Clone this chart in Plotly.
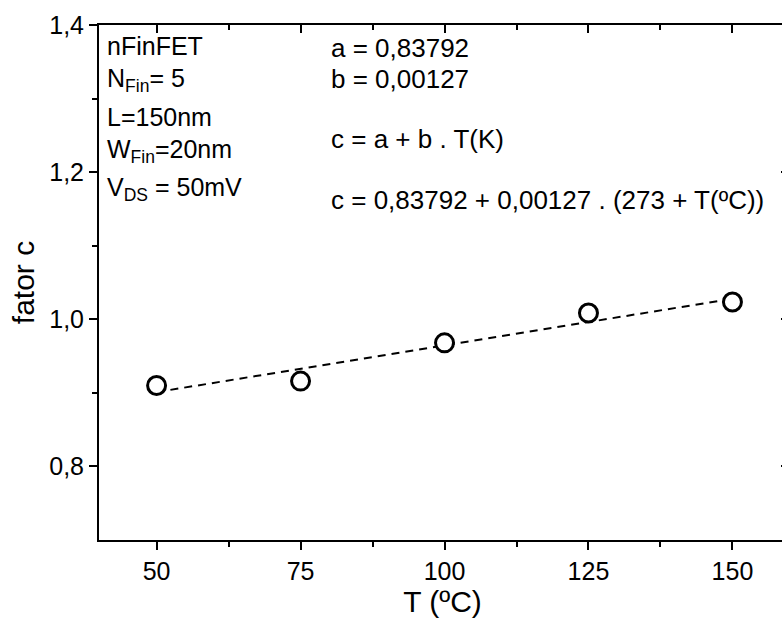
import plotly.graph_objects as go

# Data
temperature_C = [50, 75, 100, 125, 150]
fator_c = [0.910, 0.916, 0.968, 1.0085, 1.0235]

fit_T = [50, 150]
fit_c = [0.901, 1.028]

x_tick_vals = [50, 75, 100, 125, 150]
x_tick_text = ["50", "75", "100", "125", "150"]
x_minor_vals = [62.5, 87.5, 112.5, 137.5]
y_tick_vals = [0.8, 1.0, 1.2, 1.4]
y_tick_text = ["0,8", "1,0", "1,2", "1,4"]
y_minor_vals = [0.9, 1.1, 1.3]

left_labels = ["nFinFET", "N<sub>Fin</sub>= 5", "L=150nm", "W<sub>Fin</sub>=20nm", "V<sub>DS</sub> = 50mV"]
right_labels = ["a = 0,83792", "b = 0,00127", "c = a + b . T(K)", "c = 0,83792 + 0,00127 . (273 + T(ºC))"]

FONT = "Liberation Sans, Arial, Helvetica, sans-serif"
W, H = 786, 619
L_M, R_M, T_M, B_M = 99, 0, 25, 79
plot_h = H - T_M - B_M
X_RANGE = [40, 159.3]

def py(pix):
    return (H - B_M - pix) / plot_h

def px(pix):
    return (pix - L_M) / (W - L_M - R_M)

fig = go.Figure()
fig.add_trace(go.Scatter(x=fit_T, y=fit_c, mode="lines",
                         line=dict(color="black", width=2, dash="8px,6px"),
                         showlegend=False, hoverinfo="skip"))
fig.add_trace(go.Scatter(x=temperature_C, y=fator_c, mode="markers",
                         marker=dict(symbol="circle", size=18, color="white",
                                     line=dict(color="black", width=3)),
                         showlegend=False))

left_y = [46, 80, 117, 151, 189]
for txt, yy in zip(left_labels, left_y):
    fig.add_annotation(text=txt, x=px(105), y=py(yy), xref="paper", yref="paper",
                       xanchor="left", yanchor="middle", showarrow=False,
                       font=dict(family=FONT, size=25, color="black"))
right_y = [48, 79, 139, 200]
for txt, yy in zip(right_labels, right_y):
    fig.add_annotation(text=txt, x=px(329), y=py(yy), xref="paper", yref="paper",
                       xanchor="left", yanchor="middle", showarrow=False,
                       font=dict(family=FONT, size=26, color="black"))

axis_common = dict(showgrid=False, zeroline=False, linecolor="black", linewidth=2,
                   tickcolor="black", tickwidth=2)

fig.update_layout(
    width=W, height=H,
    margin=dict(l=L_M, r=R_M, t=T_M, b=B_M, autoexpand=False),
    paper_bgcolor="white", plot_bgcolor="white",
    font=dict(family=FONT, size=25, color="black"),
    xaxis=dict(range=X_RANGE, tickvals=x_tick_vals, ticktext=x_tick_text,
               ticks="outside", ticklen=8, showline=True,
               minor=dict(tickvals=x_minor_vals, ticks="outside", ticklen=5,
                          tickcolor="black", tickwidth=2),
               title=dict(text="T (ºC)", font=dict(size=30), standoff=2),
               tickfont=dict(size=25),
               **axis_common),
    xaxis2=dict(range=X_RANGE, overlaying="x", side="top", matches="x",
                tickvals=x_tick_vals, showticklabels=False,
                ticks="inside", ticklen=8, showline=True,
                minor=dict(tickvals=x_minor_vals, ticks="inside", ticklen=5,
                           tickcolor="black", tickwidth=2),
                **axis_common),
    yaxis=dict(range=[0.7, 1.4], tickvals=y_tick_vals, ticktext=y_tick_text,
               ticks="outside", ticklen=8, showline=True,
               minor=dict(tickvals=y_minor_vals, ticks="outside", ticklen=5,
                          tickcolor="black", tickwidth=2),
               title=dict(text="fator c", font=dict(size=30), standoff=6),
               tickfont=dict(size=25),
               **axis_common),
    yaxis2=dict(range=[0.7, 1.4], overlaying="y", side="right", matches="y",
                tickvals=y_tick_vals, showticklabels=False,
                ticks="inside", ticklen=5, showline=True,
                **axis_common),
)
fig.add_trace(go.Scatter(x=[None], y=[None], xaxis="x2", yaxis="y2",
                         showlegend=False, hoverinfo="skip"))

fig.write_html("out.html", config={"displayModeBar": False},
               post_script="document.body.style.margin='0';document.body.style.overflow='hidden';")
